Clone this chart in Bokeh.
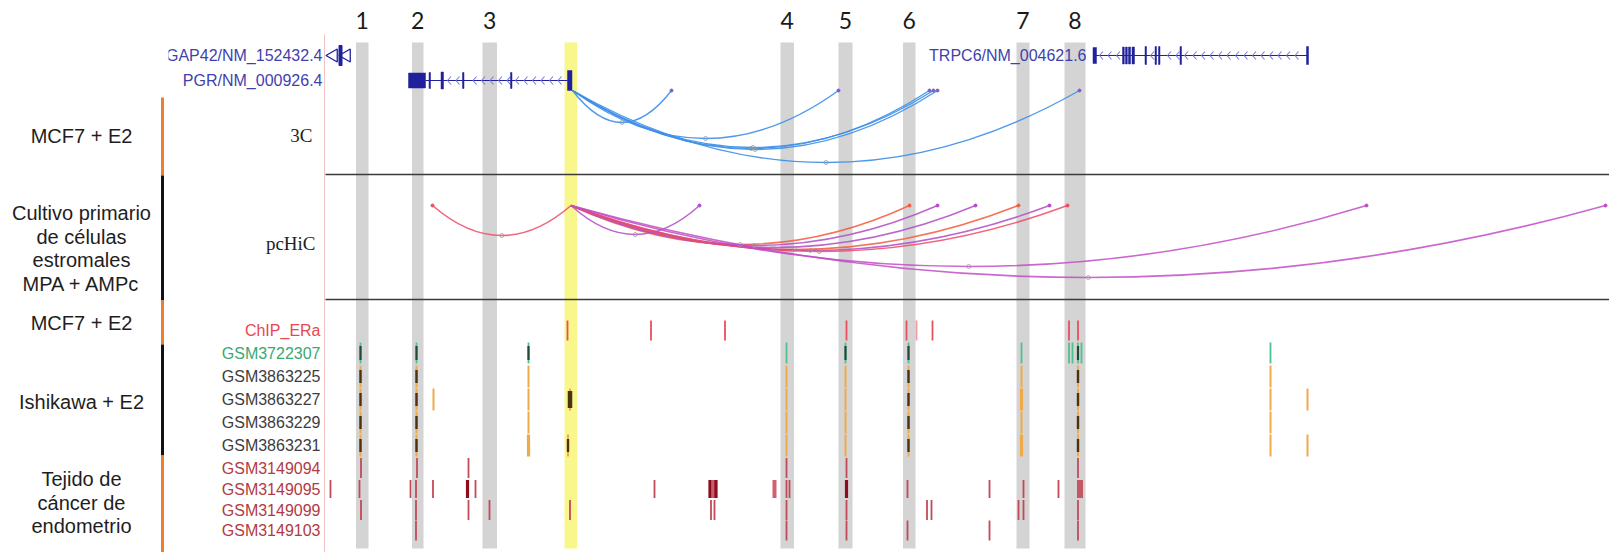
import numpy as np
from bokeh.plotting import figure
from bokeh.layouts import row
from bokeh.models import Range1d
from bokeh.core.properties import value
from bokeh.embed import file_html
from bokeh.resources import INLINE

# ------------------------------------------------------------------
# DATA  (x = position along the displayed chr11 window, browser units)
# ------------------------------------------------------------------
region_labels = ["1", "2", "3", "4", "5", "6", "7", "8"]
region_start = [355.5, 411.5, 482.0, 780.0, 838.0, 902.5, 1016.0, 1064.0]
region_end = [368.0, 423.0, 496.5, 793.5, 852.0, 915.0, 1029.0, 1085.0]
promoter_start = [564.0]
promoter_end = [576.5]

gene_names = ["ARHGAP42/NM_152432.4", "PGR/NM_000926.4", "TRPC6/NM_004621.6"]

arhgap42_arrow = [333.0, 346.0]
arhgap42_exon = [340.0]

pgr_tx_start, pgr_tx_end = 425.0, 567.0
pgr_exon_start = [408.0, 428.5, 440.5, 462.0, 510.0, 567.0]
pgr_exon_end = [425.0, 430.0, 443.0, 463.5, 511.5, 571.5]
pgr_exon_height = [15, 16, 17, 16, 16, 20]

trpc6_tx_start, trpc6_tx_end = 1094.0, 1307.0
trpc6_exon_start = [1092.5, 1122.0, 1125.0, 1128.0, 1131.5, 1144.5, 1154.5, 1158.0, 1179.5, 1306.0]
trpc6_exon_end = [1096.0, 1123.8, 1126.8, 1130.0, 1134.0, 1146.0, 1156.0, 1159.5, 1181.0, 1308.0]
trpc6_exon_height = [16, 17, 17, 17, 17, 18, 18, 18, 18, 18]

# chromatin interactions (anchor = PGR promoter)
threec_anchor = 572.0
threec_target = [671.0, 838.0, 929.0, 933.0, 937.0, 1079.0]
threec_depth = [32, 48, 58, 57, 59, 72]

pchic_anchor = 570.5
pchic_target = [432.0, 699.0, 909.0, 937.0, 975.0, 1018.0, 1049.0, 1067.0, 1366.0, 1605.0]
pchic_depth = [30, 29, 39, 40, 42, 44, 45, 46, 61, 72]
pchic_kind = ["r", "p", "o", "p", "p", "o", "p", "r", "m", "m"]

# peak tracks
track_names = ["ChIP_ERa", "GSM3722307", "GSM3863225", "GSM3863227", "GSM3863229",
               "GSM3863231", "GSM3149094", "GSM3149095", "GSM3149099", "GSM3149103"]
track_family = ["chip", "green", "ishi", "ishi", "ishi", "ishi", "tis", "tis", "tis", "tis"]

chip_era_pos = [567, 650.5, 724.5, 846, 906, 916, 932, 1068.5, 1077.5]
chip_era_kind = [1, 1, 1, 1, 1, 0, 1, 1, 1]
gsm3722307_pos = [360, 416, 528, 786, 845, 908, 1021, 1068.5, 1072, 1077.5, 1081, 1270]
gsm3722307_kind = [2, 2, 2, 1, 2, 2, 1, 1, 1, 2, 1, 1]
gsm3863225_pos = [360, 416, 528, 786, 845, 908, 1021, 1077.5, 1270]
gsm3863225_kind = [2, 2, 1, 1, 1, 2, 1, 2, 1]
gsm3863227_pos = [360, 416, 433, 528, 569.5, 786, 845, 908, 1021, 1077.5, 1270, 1307]
gsm3863227_kind = [2, 2, 1, 1, 3, 1, 1, 2, 4, 2, 1, 1]
gsm3863229_pos = [360, 416, 528, 786, 845, 908, 1021, 1077.5, 1270]
gsm3863229_kind = [2, 2, 1, 1, 1, 2, 1, 2, 1]
gsm3863231_pos = [360, 416, 528, 567.5, 786, 845, 908, 1021, 1077.5, 1270, 1307]
gsm3863231_kind = [2, 2, 4, 2, 1, 1, 2, 4, 2, 1, 1]
gsm3149094_pos = [360.5, 416.5, 468, 786, 846, 1077.5]
gsm3149094_kind = [1, 1, 1, 1, 1, 1]
gsm3149095_pos = [330, 359, 410, 415.5, 432.5, 467, 475, 654, 709.5, 711.5, 713.5, 715.5,
                  774, 786, 789, 846, 907, 989, 1023, 1058, 1077.5, 1079.5, 1081.5]
gsm3149095_kind = [1, 1, 1, 1, 1, 2, 1, 1, 2, 1, 1, 2,
                   3, 1, 1, 2, 1, 1, 1, 1, 1, 1, 1]
gsm3149099_pos = [360.5, 415.5, 468, 489, 569.5, 710.5, 714, 786, 846, 926.5, 931, 1018, 1023, 1077.5]
gsm3149099_kind = [1] * 14
gsm3149103_pos = [415.5, 786, 846, 907, 989, 1077.5]
gsm3149103_kind = [1] * 6

track_pos = [chip_era_pos, gsm3722307_pos, gsm3863225_pos, gsm3863227_pos, gsm3863229_pos,
             gsm3863231_pos, gsm3149094_pos, gsm3149095_pos, gsm3149099_pos, gsm3149103_pos]
track_kind = [chip_era_kind, gsm3722307_kind, gsm3863225_kind, gsm3863227_kind, gsm3863229_kind,
              gsm3863231_kind, gsm3149094_kind, gsm3149095_kind, gsm3149099_kind, gsm3149103_kind]

group_labels = ["MCF7 + E2", "Cultivo primario\nde células\nestromales\nMPA + AMPc",
                "MCF7 + E2", "Ishikawa + E2", "Tejido de\ncáncer de\nendometrio"]

# ------------------------------------------------------------------
# LAYOUT / STYLE
# ------------------------------------------------------------------
H = 552
Y_RANGE = (552, 0)
SANS = value("Liberation Sans")
SERIF = value("Liberation Serif")

group_top = [97, 175, 300, 344, 455]
group_bottom = [175, 300, 344, 455, 552]
group_color = ["#ed7d31", "#111111", "#ed7d31", "#111111", "#ed7d31"]
group_center = [135, 248, 322, 401, 502]
LINE_STEP = 23.5

row_y = [330, 352.5, 376, 399, 422, 445, 467.5, 488.5, 509.5, 530]
row_half = [10, 10.5, 11.5, 11.5, 11.5, 11.5, 10, 9, 10, 10]
track_label_color = {"chip": "#e8474f", "green": "#3aa872", "ishi": "#3d3d3d", "tis": "#b23a44"}

gene_col = "#20209c"
chev_col = "#7a7ad6"
label_blue = "#3f3fae"


def base_fig(width, xr):
    f = figure(width=width, height=H, x_range=Range1d(*xr), y_range=Range1d(*Y_RANGE),
               output_backend="svg", toolbar_location=None,
               x_axis_location=None, y_axis_location=None,
               min_border=0, outline_line_color=None)
    f.xgrid.visible = False
    f.ygrid.visible = False
    f.background_fill_color = "white"
    f.border_fill_color = "white"
    return f


# ---------------- left panel (sample groups) ----------------
q = base_fig(168, (0, 168))
q.segment(x0=162, y0=group_top, x1=162, y1=group_bottom, line_color=group_color, line_width=3)
gx, gy, gt = [], [], []
for lab, c in zip(group_labels, group_center):
    lines = lab.split("\n")
    n = len(lines)
    for i, ln in enumerate(lines):
        gx.append(81)
        gy.append(c + (i - (n - 1) / 2) * LINE_STEP)
        gt.append(ln)
q.text(x=gx, y=gy, text=gt, text_font=SANS, text_font_size="20px", text_color="#1e1e1e",
       text_align="center", text_baseline="middle")

# ---------------- main browser panel ----------------
p = base_fig(1441, (168, 1609))

# highlighted regions
p.quad(left=region_start, right=region_end, top=42, bottom=548, fill_color="#d4d4d4", line_color=None)
p.quad(left=promoter_start, right=promoter_end, top=42, bottom=548, fill_color="#f9f68c", line_color=None)
p.text(x=[(s + e) / 2 for s, e in zip(region_start, region_end)], y=20, text=region_labels,
       text_font=value("Lato"), text_font_size="23px", text_color="#1a1a1a",
       text_align="center", text_baseline="middle")

# track area border and panel separators
p.segment(x0=324, y0=34, x1=324, y1=552, line_color="#f2c2c2", line_width=1)
p.segment(x0=[325, 325], y0=[174, 299], x1=[1609, 1609], y1=[174, 299],
          line_color="#3a3a3a", line_width=1.6)

# genes
p.text(x=[322, 322, 1086], y=[55, 80, 55], text=gene_names, text_font=SANS, text_font_size="16px",
       text_color=label_blue, text_align="right", text_baseline="middle")

p.scatter(x=arhgap42_arrow, y=55, marker="triangle", angle=np.pi / 2, size=13,
          fill_color=None, line_color=gene_col, line_width=1.3)
p.vbar(x=arhgap42_exon, width=3, top=45, bottom=65, color=gene_col)


def draw_gene(y, tx0, tx1, es, ee, eh):
    p.segment(x0=tx0, y0=y, x1=tx1, y1=y, line_color=gene_col, line_width=1.2)
    cx = []
    for c in np.arange(tx0 + 5, tx1 - 3, 8.5):
        if any(s - 3 <= c <= e + 2 for s, e in zip(es, ee)):
            continue
        cx.append(c)
    cx = np.array(cx)
    p.segment(x0=cx, y0=y, x1=cx + 3.5, y1=y - 4, line_color=chev_col, line_width=1.1)
    p.segment(x0=cx, y0=y, x1=cx + 3.5, y1=y + 4, line_color=chev_col, line_width=1.1)
    p.quad(left=es, right=ee, top=[y - h / 2 for h in eh], bottom=[y + h / 2 for h in eh],
           fill_color=gene_col, line_color=gene_col, line_width=0.5)


draw_gene(80, pgr_tx_start, pgr_tx_end, pgr_exon_start, pgr_exon_end, pgr_exon_height)
draw_gene(55, trpc6_tx_start, trpc6_tx_end, trpc6_exon_start, trpc6_exon_end, trpc6_exon_height)

# track labels
p.text(x=[312, 315], y=[135, 243], text=["3C", "pcHiC"], text_font=SERIF, text_font_size="19px",
       text_color="#222222", text_align="right", text_baseline="middle")
p.text(x=320, y=row_y, text=track_names, text_font=SANS, text_font_size="16px",
       text_color=[track_label_color[f] for f in track_family],
       text_align="right", text_baseline="middle")

# 3C arcs
Y3C = 90
n3 = len(threec_target)
p.quadratic(x0=[threec_anchor] * n3, y0=Y3C, x1=threec_target, y1=Y3C,
            cx=[(threec_anchor + t) / 2 for t in threec_target],
            cy=[Y3C + 2 * d for d in threec_depth],
            line_color="#3d8ee8", line_width=1.4, line_alpha=0.9)
p.scatter(x=threec_target, y=Y3C, size=3, color="#7a60c8")
p.scatter(x=[(threec_anchor + t) / 2 for t in threec_target], y=[Y3C + d for d in threec_depth],
          size=4, fill_color=None, line_color="#9a9a9a", line_width=0.8)

# pcHiC arcs
YHIC = 205
hic_col = {"r": "#ee4a66", "p": "#b24cc6", "o": "#f45a3c", "m": "#c24cc6"}
nh = len(pchic_target)
p.quadratic(x0=[pchic_anchor] * nh, y0=YHIC, x1=pchic_target, y1=YHIC,
            cx=[(pchic_anchor + t) / 2 for t in pchic_target],
            cy=[YHIC + 2 * d for d in pchic_depth],
            line_color=[hic_col[k] for k in pchic_kind], line_width=1.6, line_alpha=0.85)
p.scatter(x=pchic_target, y=YHIC, size=3, color=[hic_col[k] for k in pchic_kind])
p.scatter(x=[(pchic_anchor + t) / 2 for t in pchic_target], y=[YHIC + d for d in pchic_depth],
          size=4, fill_color=None, line_color="#9a9a9a", line_width=0.8)

# peak tracks
bx, bw, bt, bb, bc = [], [], [], [], []


def add_bar(x, w, y, h, c):
    bx.append(x); bw.append(w); bt.append(y - h); bb.append(y + h); bc.append(c)


core = []
for fam, y, hh, pos, kind in zip(track_family, row_y, row_half, track_pos, track_kind):
    for x, k in zip(pos, kind):
        if fam == "chip":
            add_bar(x, 1.8, y, hh, "#e8505c" if k else "#f39aa0")
        elif fam == "green":
            add_bar(x, 1.8, y, hh, "#52c08e")
            if k == 2:
                core.append((x, 2.2, y, 7, "#1c4d34"))
        elif fam == "ishi":
            add_bar(x, 3.2 if k == 4 else 2.0, y, hh - 0.5, "#eeaa48")
            if k == 2:
                core.append((x, 2.4, y, 6.5, "#4a3212"))
            elif k == 3:
                core.append((x, 4.5, y, 8.5, "#4a3212"))
        else:
            if k == 2:
                add_bar(x, 3.2, y, hh, "#8c0c1e")
            elif k == 3:
                add_bar(x, 4.0, y, hh, "#d06070")
            else:
                add_bar(x, 1.8, y, hh, "#c24a58")
for c in core:
    add_bar(*c)

p.vbar(x=bx, width=bw, top=bt, bottom=bb, fill_color=bc, line_color=None)

layout = row(q, p)
open("out.html", "w").write(file_html(layout, INLINE, title="PGR"))
